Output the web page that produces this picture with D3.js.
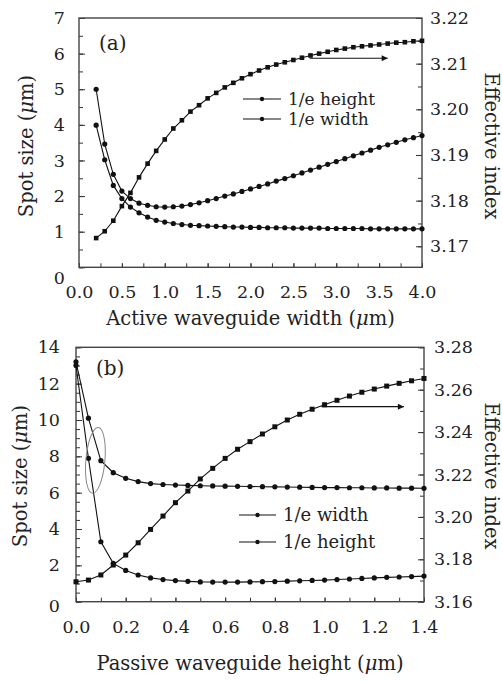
<!DOCTYPE html>
<html>
<head>
<meta charset="utf-8">
<script src="https://cdn.jsdelivr.net/npm/d3@7"></script>
<style>
body { margin: 0; background: #fff; }
svg text { font-family: "DejaVu Serif", serif; fill: #222; }
</style>
</head>
<body>
<div id="chart"></div>
<script>
// ---- panel (a) data ----
const aActiveWidth = [0.2,0.3,0.4,0.5,0.6,0.7,0.8,0.9,1.0,1.1,1.2,1.3,1.4,1.5,1.6,1.7,1.8,1.9,2.0,
  2.1,2.2,2.3,2.4,2.5,2.6,2.7,2.8,2.9,3.0,3.1,3.2,3.3,3.4,3.5,3.6,3.7,3.8,3.9,4.0];
const aSpotWidth = [5.00,3.46,2.61,2.14,1.93,1.80,1.74,1.70,1.69,1.70,1.72,1.76,1.81,1.87,1.93,2.00,2.06,2.13,2.20,
  2.27,2.34,2.42,2.49,2.57,2.65,2.73,2.81,2.89,2.97,3.05,3.13,3.21,3.29,3.37,3.44,3.51,3.58,3.64,3.70];
const aSpotHeight = [3.99,3.02,2.30,1.93,1.69,1.53,1.41,1.32,1.27,1.23,1.20,1.18,1.17,1.16,1.15,1.14,1.13,1.13,1.12,
  1.12,1.11,1.11,1.11,1.10,1.10,1.10,1.10,1.09,1.09,1.09,1.09,1.09,1.08,1.08,1.08,1.08,1.08,1.08,1.08];
const aIndex = [3.1718,3.1733,3.1756,3.1788,3.1817,3.1851,3.1881,3.1909,3.1934,3.1958,3.1976,3.1995,3.2009,3.2024,3.2036,3.2048,3.2058,3.2068,3.2077,
  3.2085,3.2092,3.2098,3.2103,3.2108,3.2113,3.2118,3.2122,3.2126,3.2130,3.2133,3.2136,3.2138,3.2140,3.2142,3.2144,3.2146,3.2147,3.2149,3.2150];

const aXLabels = [0,0.5,1.0,1.5,2.0,2.5,3.0,3.5,4.0];
const aYLabels = [0,1,2,3,4,5,6,7];
const aY2Labels = [3.17,3.18,3.19,3.20,3.21,3.22];

// ---- panel (b) data ----
const bPassiveHeight = [0,0.05,0.1,0.15,0.2,0.25,0.3,0.35,0.4,0.45,0.5,0.55,0.6,0.65,0.7,
  0.75,0.8,0.85,0.9,0.95,1.0,1.05,1.1,1.15,1.2,1.25,1.3,1.35,1.4];
const bSpotWidth = [13.2,10.1,7.76,7.10,6.79,6.61,6.50,6.45,6.42,6.40,6.38,6.37,6.36,6.35,6.34,
  6.33,6.32,6.31,6.30,6.29,6.28,6.28,6.27,6.27,6.26,6.26,6.25,6.25,6.24];
const bSpotHeight = [13.0,7.89,3.30,2.11,1.72,1.47,1.31,1.22,1.16,1.12,1.09,1.08,1.08,1.08,1.09,
  1.10,1.11,1.13,1.15,1.17,1.19,1.22,1.25,1.28,1.31,1.34,1.36,1.38,1.41];
const bIndex = [3.1694,3.1702,3.1726,3.1773,3.1820,3.1878,3.1941,3.2004,3.2067,3.2122,3.2179,3.2229,3.2276,3.2319,3.2355,
  3.2391,3.2425,3.2457,3.2484,3.2508,3.2529,3.2550,3.2570,3.2588,3.2603,3.2617,3.2630,3.2642,3.2653];

const bXLabels = [0,0.2,0.4,0.6,0.8,1.0,1.2,1.4];
const bYLabels = [0,2,4,6,8,10,12,14];
const bY2Labels = [3.16,3.18,3.20,3.22,3.24,3.26,3.28];

const W = 502, H = 682;
const svg = d3.select("#chart").append("svg")
    .attr("width", W)
    .attr("height", H);

const defs = svg.append("defs");
defs.append("marker")
    .attr("id", "arrow")
    .attr("viewBox", "0 0 10 10")
    .attr("refX", 10).attr("refY", 5)
    .attr("markerWidth", 12).attr("markerHeight", 6)
    .attr("markerUnits", "userSpaceOnUse")
    .attr("orient", "auto")
    .append("path")
    .attr("d", "M0,0L10,5L0,10z")
    .attr("fill", "#111");

function styleAxis(g, size) {
    g.select(".domain").remove();
    g.selectAll(".tick line").attr("stroke", "#333").attr("stroke-width", 1);
    g.selectAll(".tick text")
        .attr("font-family", "DejaVu Serif, serif")
        .attr("font-size", size)
        .attr("fill", "#222");
}

function drawPanel(c) {
    const g = svg.append("g");
    const x = d3.scaleLinear().domain(c.xDomain).range([c.left, c.right]);
    const y = d3.scaleLinear().domain(c.yDomain).range([c.bottom, c.top]);
    const y2 = d3.scaleLinear().domain(c.y2Domain).range([c.bottom, c.top]);

    // minor ticks
    g.append("g").attr("transform", "translate(0," + c.bottom + ")")
        .call(d3.axisBottom(x).tickValues(d3.range(c.xDomain[0], c.xDomain[1] + 1e-9, c.xMinor)).tickSize(-4).tickFormat(""))
        .call(styleAxis, 17.5);
    g.append("g").attr("transform", "translate(" + c.left + ",0)")
        .call(d3.axisLeft(y).tickValues(d3.range(c.yDomain[0], c.yDomain[1] + 1e-9, c.yMinor)).tickSize(-4).tickFormat(""))
        .call(styleAxis, 17.5);
    g.append("g").attr("transform", "translate(" + c.right + ",0)")
        .call(d3.axisRight(y2).tickValues(d3.range(c.y2Start, c.y2Domain[1] + 1e-9, c.y2Minor)).tickSize(-4).tickFormat(""))
        .call(styleAxis, 17.5);

    // labelled ticks
    g.append("g").attr("transform", "translate(0," + c.bottom + ")")
        .call(d3.axisBottom(x).tickValues(c.xLabels).tickSize(-4).tickPadding(c.xPad).tickFormat(d3.format(".1f")))
        .call(styleAxis, 17.5);
    const yl = g.append("g").attr("transform", "translate(" + c.left + ",0)")
        .call(d3.axisLeft(y).tickValues(c.yLabels).tickSize(-6).tickPadding(c.yPad).tickFormat(d3.format("d")))
        .call(styleAxis, 17.5);
    yl.selectAll(".tick text").filter(d => d === 0).attr("dy", c.zeroDy);
    g.append("g").attr("transform", "translate(" + c.right + ",0)")
        .call(d3.axisRight(y2).tickValues(c.y2Labels).tickSize(-6).tickPadding(c.y2Pad).tickFormat(d3.format(".2f")))
        .call(styleAxis, 17.5);

    // frame
    g.append("rect")
        .attr("x", c.left).attr("y", c.top)
        .attr("width", c.right - c.left).attr("height", c.bottom - c.top)
        .attr("fill", "none").attr("stroke", "#444").attr("stroke-width", 1.4);

    const line = (ys, sc) => d3.line().x((d, i) => x(c.xs[i])).y(d => sc(d))(ys);

    // spot size curves (dots)
    [c.spot1, c.spot2].forEach(ys => {
        g.append("path").attr("d", line(ys, y))
            .attr("fill", "none").attr("stroke", "#111").attr("stroke-width", 1.1);
        g.append("g").selectAll("circle").data(ys).enter().append("circle")
            .attr("cx", (d, i) => x(c.xs[i]))
            .attr("cy", d => y(d))
            .attr("r", 2.6)
            .attr("fill", "#111");
    });

    // effective index (squares)
    g.append("path").attr("d", line(c.index, y2))
        .attr("fill", "none").attr("stroke", "#111").attr("stroke-width", 1.1);
    g.append("g").selectAll("rect").data(c.index).enter().append("rect")
        .attr("x", (d, i) => x(c.xs[i]) - c.sq / 2)
        .attr("y", d => y2(d) - c.sq / 2)
        .attr("width", c.sq).attr("height", c.sq)
        .attr("fill", "#111");

    // arrow pointing to right axis
    g.append("line")
        .attr("x1", x(c.arrow[0])).attr("x2", x(c.arrow[1]))
        .attr("y1", y2(c.arrow[2])).attr("y2", y2(c.arrow[2]))
        .attr("stroke", "#111").attr("stroke-width", 1.1)
        .attr("marker-end", "url(#arrow)");

    // panel label
    g.append("text").attr("x", c.tag[0]).attr("y", c.tag[1])
        .attr("font-size", 20).text(c.tagText);

    // legend
    c.legend.forEach((name, i) => {
        const ly = c.legendY[i];
        g.append("line").attr("x1", c.legendX[0]).attr("x2", c.legendX[1])
            .attr("y1", ly).attr("y2", ly).attr("stroke", "#111").attr("stroke-width", 1.1);
        g.append("circle").attr("cx", (c.legendX[0] + c.legendX[1]) / 2).attr("cy", ly)
            .attr("r", 2.2).attr("fill", "#111");
        g.append("text").attr("x", c.legendX[1] + 7).attr("y", ly + 6)
            .attr("font-size", c.legendSize).text(name);
    });

    // axis titles
    const xt = g.append("text").attr("x", (c.left + c.right) / 2).attr("y", c.xTitleY)
        .attr("text-anchor", "middle").attr("font-size", 19.5);
    xt.append("tspan").text(c.xTitle + " (");
    xt.append("tspan").attr("font-style", "italic").text("\u03bc");
    xt.append("tspan").text("m)");

    const ytl = g.append("text")
        .attr("transform", "translate(" + c.yTitleX + "," + c.yTitleCY + ") rotate(-90)")
        .attr("text-anchor", "middle").attr("font-size", 19.5);
    ytl.append("tspan").text("Spot size (");
    ytl.append("tspan").attr("font-style", "italic").text("\u03bc");
    ytl.append("tspan").text("m)");

    g.append("text")
        .attr("transform", "translate(" + c.y2TitleX + "," + c.yTitleCY + ") rotate(90)")
        .attr("text-anchor", "middle").attr("font-size", 19.5)
        .text("Effective index");

    return { g, x, y, y2 };
}

drawPanel({
    left: 79, right: 422, top: 18, bottom: 267.3,
    xDomain: [0, 4], yDomain: [0, 7], y2Domain: [3.1654, 3.22], y2Start: 3.17,
    xMinor: 0.25, yMinor: 0.5, y2Minor: 0.005,
    xLabels: aXLabels, yLabels: aYLabels, y2Labels: aY2Labels,
    xPad: 18, yPad: 14, y2Pad: 8, zeroDy: "0.9em",
    xs: aActiveWidth, spot1: aSpotWidth, spot2: aSpotHeight, index: aIndex, sq: 4.6,
    arrow: [2.69, 3.6, 3.2112],
    tag: [99, 50], tagText: "(a)",
    legend: ["1/e height", "1/e width"], legendY: [99, 119], legendX: [243, 281], legendSize: 17,
    xTitle: "Active waveguide width", xTitleY: 325,
    yTitleX: 33, yTitleCY: 146, y2TitleX: 485
});

const pb = drawPanel({
    left: 76, right: 424, top: 347.3, bottom: 601.7,
    xDomain: [0, 1.4], yDomain: [0, 14], y2Domain: [3.16, 3.28], y2Start: 3.16,
    xMinor: 0.1, yMinor: 0.5, y2Minor: 0.01,
    xLabels: bXLabels, yLabels: bYLabels, y2Labels: bY2Labels,
    xPad: 19, yPad: 16, y2Pad: 10, zeroDy: "0.55em",
    xs: bPassiveHeight, spot1: bSpotWidth, spot2: bSpotHeight, index: bIndex, sq: 5,
    arrow: [0.988, 1.319, 3.252],
    tag: [96, 375], tagText: "(b)",
    legend: ["1/e width", "1/e height"], legendY: [515, 542], legendX: [239, 276], legendSize: 18,
    xTitle: "Passive waveguide height", xTitleY: 670,
    yTitleX: 27, yTitleCY: 476, y2TitleX: 485
});

// ellipse grouping the two curves in (b)
pb.g.append("ellipse")
    .attr("transform", "translate(" + pb.x(0.078) + "," + pb.y(7.78) + ") rotate(5)")
    .attr("rx", 9.5).attr("ry", 33)
    .attr("fill", "none").attr("stroke", "#888").attr("stroke-width", 1);
</script>
</body>
</html>
